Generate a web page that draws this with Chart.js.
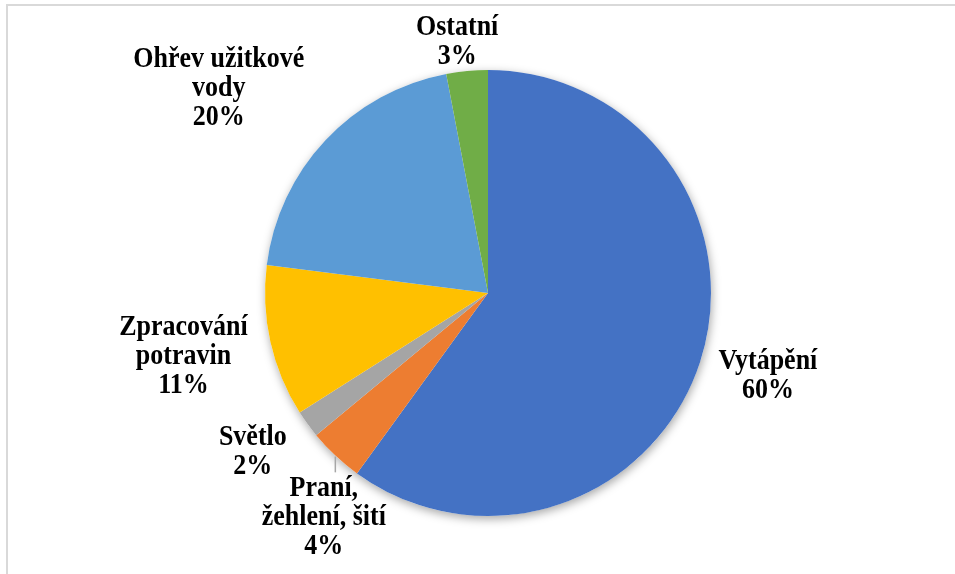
<!DOCTYPE html>
<html>
<head>
<meta charset="utf-8">
<script src="https://cdn.jsdelivr.net/npm/chart.js@4.4.1/dist/chart.umd.min.js"></script>
<style>
  html, body { margin: 0; padding: 0; background: #ffffff; }
  #wrap { position: relative; width: 955px; height: 574px; }
</style>
</head>
<body>
<div id="wrap"><canvas id="c" width="955" height="574"></canvas></div>
<script>
// ---- data ----
const categories = ["Vytápění", "Praní, žehlení, šití", "Světlo", "Zpracování potravin", "Ohřev užitkové vody", "Ostatní"];
const labelLines = [["Vytápění"], ["Praní,", "žehlení, šití"], ["Světlo"], ["Zpracování", "potravin"], ["Ohřev užitkové", "vody"], ["Ostatní"]];
const shares = [60, 4, 2, 11, 20, 3];

// ---- style ----
const colors = ["#4472C4", "#ED7D31", "#A5A5A5", "#FFC000", "#5B9BD5", "#70AD47"];
// label placement relative to each slice: extra distance beyond the radius, angle nudge (deg)
const labelPlacement = [
  { extra: 69, dAng: -1.5 },
  { extra: 55, dAng: -7.0, leader: true },
  { extra: 61, dAng: 1.9 },
  { extra: 88, dAng: 0.9 },
  { extra: 115, dAng: -6.0 },
  { extra: 30, dAng: -1.6 }
];
const labelFont = "bold 26px 'Liberation Serif', 'Times New Roman', serif";
const lineHeight = 29;
const textStretchY = 1.13;

const frame = {
  id: 'frame',
  beforeDraw(chart) {
    const ctx = chart.ctx;
    ctx.save();
    ctx.fillStyle = '#ffffff';
    ctx.fillRect(0, 0, chart.width, chart.height);
    ctx.fillStyle = '#d9d9d9';
    ctx.fillRect(6, 4, chart.width - 6, 2);
    ctx.fillRect(6, 4, 2, chart.height - 4);
    ctx.restore();
  }
};

const pieShadow = {
  id: 'pieShadow',
  beforeDatasetsDraw(chart) {
    const arc = chart.getDatasetMeta(0).data[0];
    if (!arc) return;
    const ctx = chart.ctx;
    ctx.save();
    ctx.shadowColor = 'rgba(0,0,0,0.35)';
    ctx.shadowBlur = 10;
    ctx.shadowOffsetX = 1;
    ctx.shadowOffsetY = 3;
    ctx.fillStyle = '#ffffff';
    ctx.beginPath();
    ctx.arc(arc.x, arc.y, arc.outerRadius, 0, Math.PI * 2);
    ctx.fill();
    ctx.restore();
  }
};

const sliceLabels = {
  id: 'sliceLabels',
  afterDatasetsDraw(chart) {
    const ctx = chart.ctx;
    const meta = chart.getDatasetMeta(0);
    const total = shares.reduce((a, b) => a + b, 0);
    ctx.save();
    ctx.font = labelFont;
    ctx.fillStyle = '#000000';
    ctx.textAlign = 'center';
    ctx.textBaseline = 'middle';
    meta.data.forEach((arc, i) => {
      const p = labelPlacement[i];
      const mid = (arc.startAngle + arc.endAngle) / 2 + p.dAng * Math.PI / 180;
      const dist = arc.outerRadius + p.extra;
      const cx = arc.x + Math.cos(mid) * dist;
      const cy = arc.y + Math.sin(mid) * dist;
      const lines = labelLines[i].concat([Math.round(shares[i] / total * 100) + '%']);
      const top = cy - (lines.length - 1) * lineHeight / 2;
      lines.forEach((t, k) => {
        ctx.save();
        ctx.translate(cx, top + k * lineHeight);
        ctx.scale(1, textStretchY);
        ctx.fillText(t, 0, 0);
        ctx.restore();
      });
      if (p.leader) {
        const am = (arc.startAngle + arc.endAngle) / 2;
        const ex = arc.x + Math.cos(am) * arc.outerRadius;
        const ey = arc.y + Math.sin(am) * arc.outerRadius;
        ctx.save();
        ctx.strokeStyle = '#a6a6a6';
        ctx.lineWidth = 1.5;
        ctx.beginPath();
        ctx.moveTo(ex, ey + 1);
        ctx.lineTo(ex, top - 16);
        ctx.stroke();
        ctx.restore();
      }
    });
    ctx.restore();
  }
};

new Chart(document.getElementById('c'), {
  type: 'pie',
  data: {
    labels: categories,
    datasets: [{
      data: shares,
      backgroundColor: colors,
      borderWidth: 0
    }]
  },
  options: {
    responsive: false,
    animation: false,
    events: [],
    layout: { padding: { top: 70, bottom: 58, left: 21, right: 0 } },
    plugins: {
      legend: { display: false },
      tooltip: { enabled: false },
      title: { display: false }
    }
  },
  plugins: [frame, pieShadow, sliceLabels]
});
</script>
</body>
</html>
